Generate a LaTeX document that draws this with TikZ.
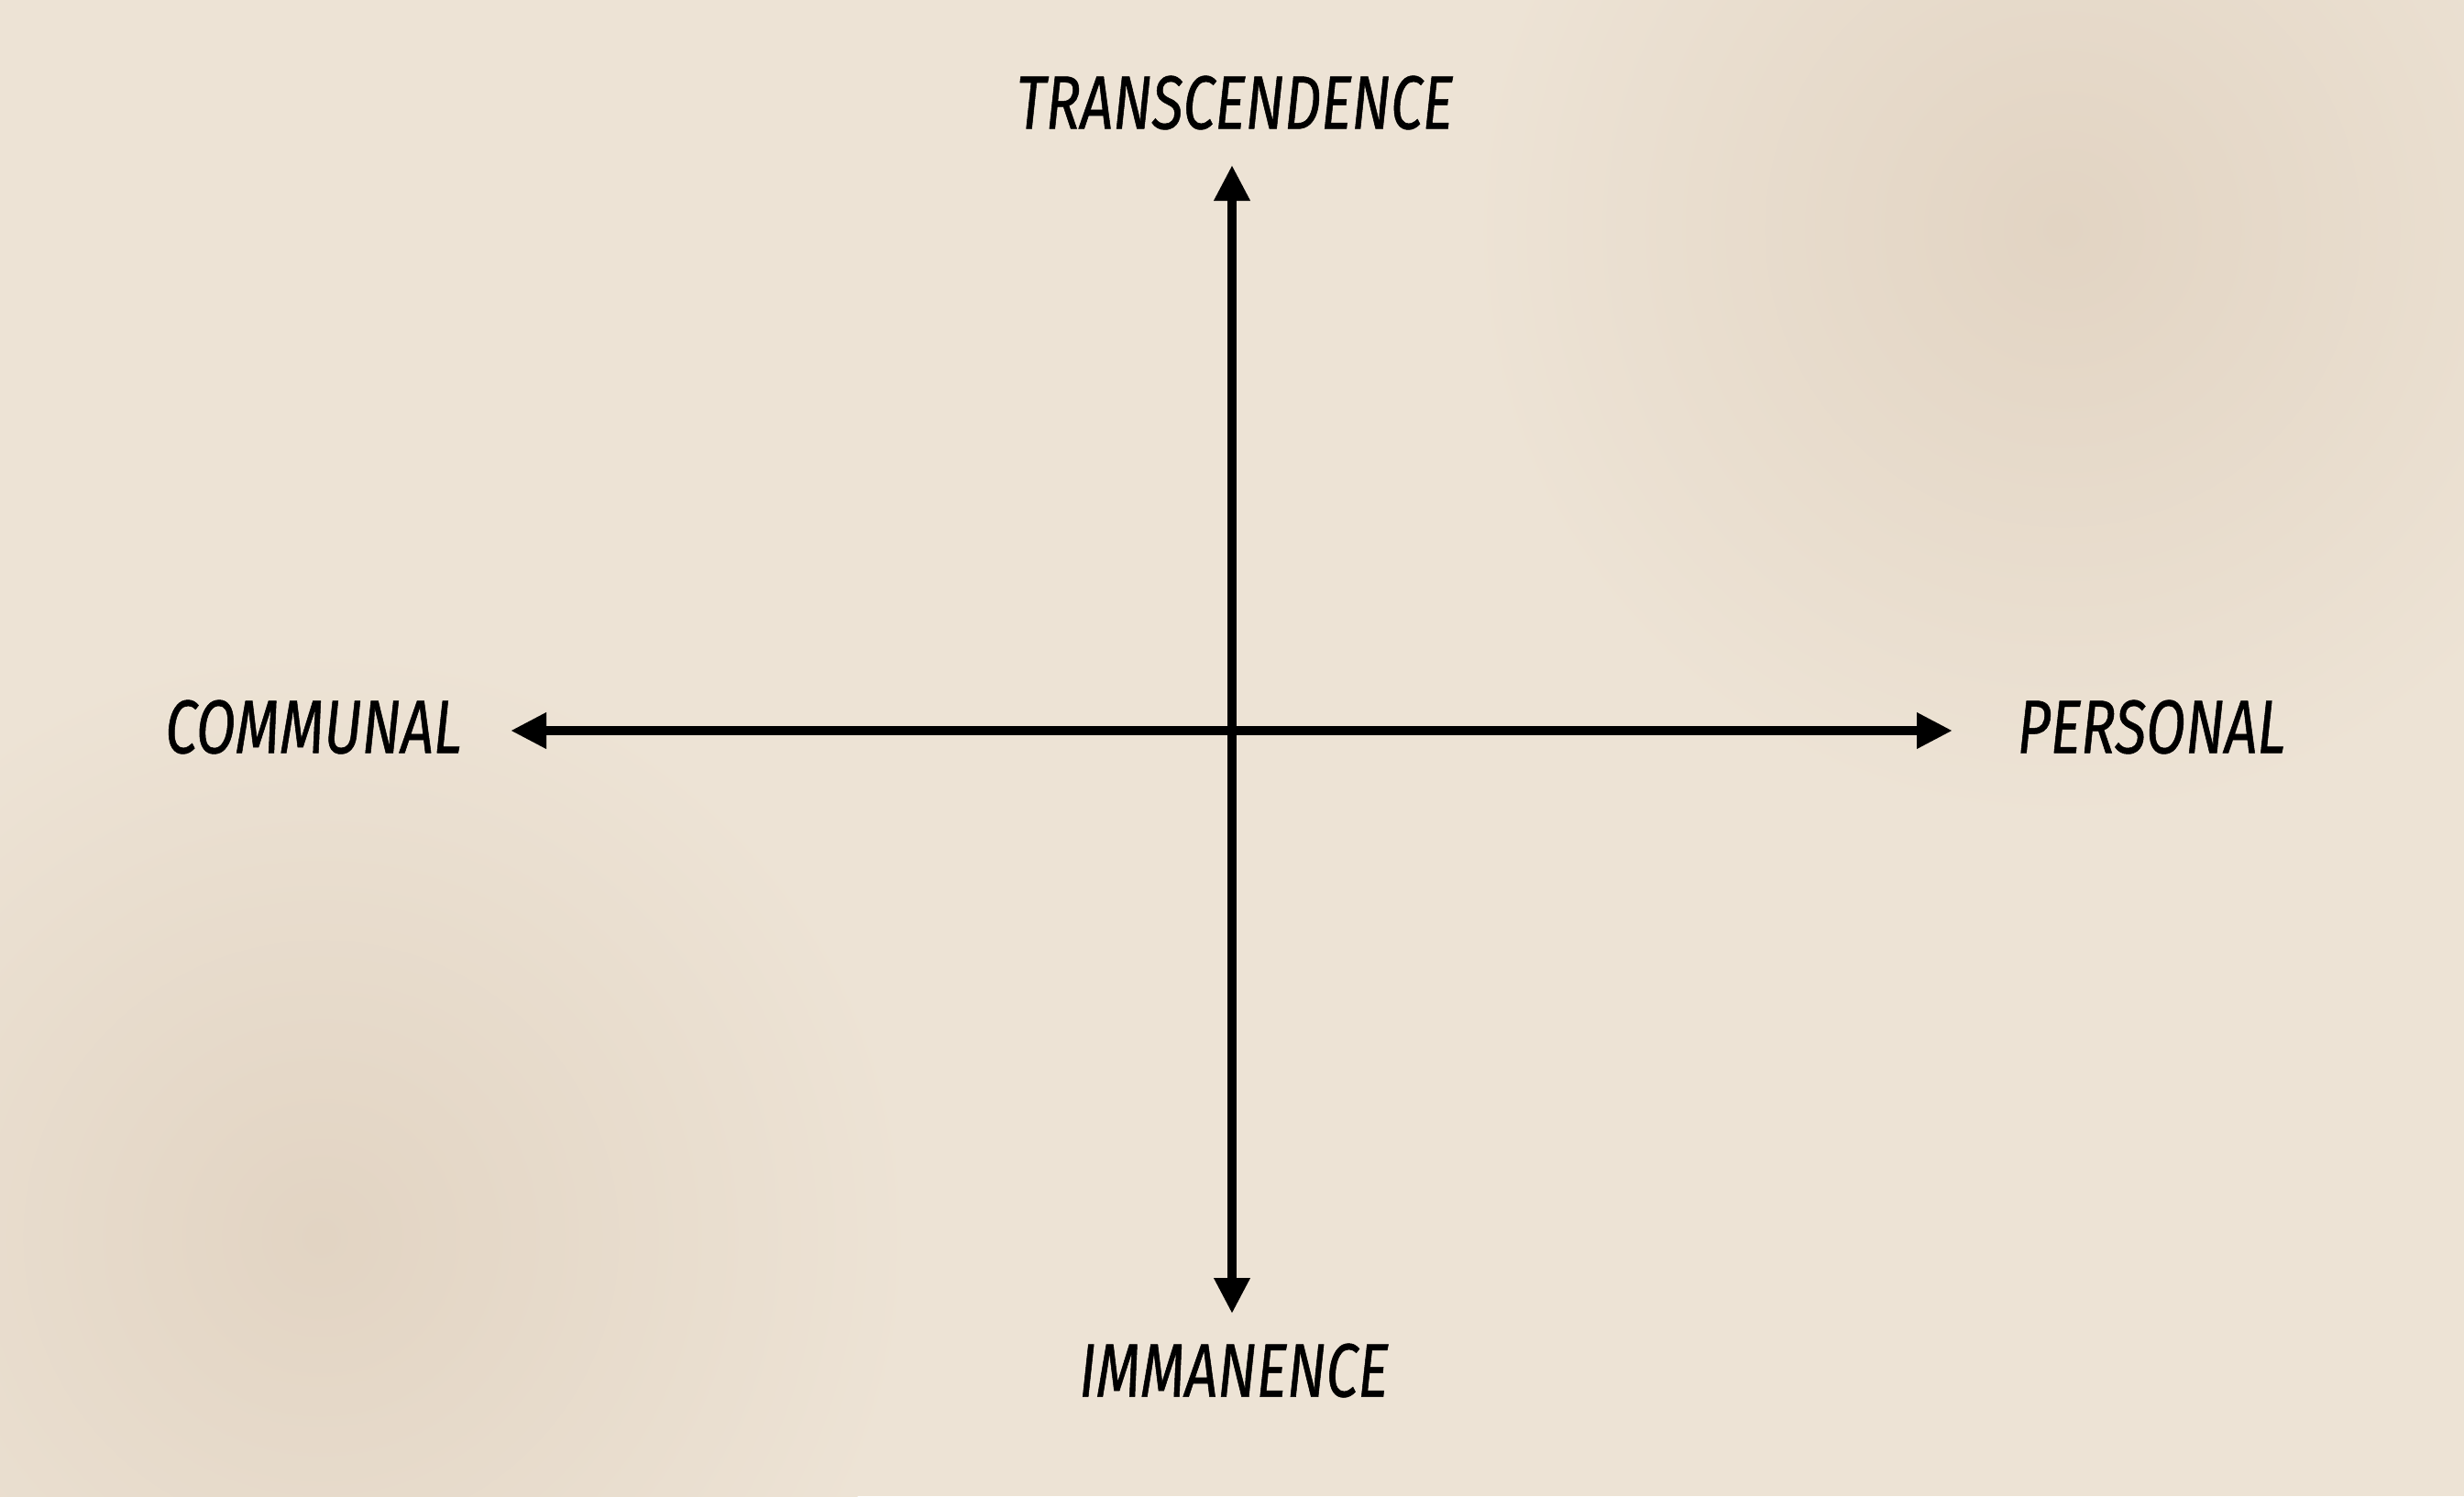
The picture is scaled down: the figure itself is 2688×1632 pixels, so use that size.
\documentclass[tikz,border=0pt]{standalone}
\usepackage{fontspec}
\setmainfont{Fira Sans}[FakeStretch=0.76, ItalicFeatures={FakeBold=0.6}]
\usetikzlibrary{arrows.meta}
\definecolor{paper}{RGB}{237,227,213}
\definecolor{paperdark}{RGB}{226,212,195}

\begin{document}
\begin{tikzpicture}[x=0.01cm, y=-0.01cm,
  axis/.style={line width=0.1cm, -{Triangle[length=0.39cm, width=0.37cm]}},
  pole/.style={inner sep=0pt, font=\fontsize{23.5pt}{26pt}\selectfont\itshape}]
  % background
  \useasboundingbox (0,0) rectangle (2688,1632);
  \begin{scope}
    \clip (0,0) rectangle (2688,1632);
    \fill[paper] (0,0) rectangle (2688,1632);
    \shade[inner color=paperdark, outer color=paper] (2250,250) circle (650);
    \shade[inner color=paperdark, outer color=paper] (350,1350) circle (650);
  \end{scope}

  % axis ends
  \coordinate (c) at (1344,797);
  \coordinate (top) at (1344,180);
  \coordinate (bottom) at (1344,1433);
  \coordinate (left) at (557,797);
  \coordinate (right) at (2130,797);

  % poles
  \node[pole] (trans) at (1347,112) {TRANSCENDENCE};
  \node[pole] (imma) at (1346,1495) {IMMANENCE};
  \node[pole] (comm) at (342,793) {COMMUNAL};
  \node[pole] (pers) at (2347,793) {PERSONAL};

  % axes
  \draw[axis] (c) -- (top);
  \draw[axis] (c) -- (bottom);
  \draw[axis] (c) -- (left);
  \draw[axis] (c) -- (right);
\end{tikzpicture}
\end{document}
